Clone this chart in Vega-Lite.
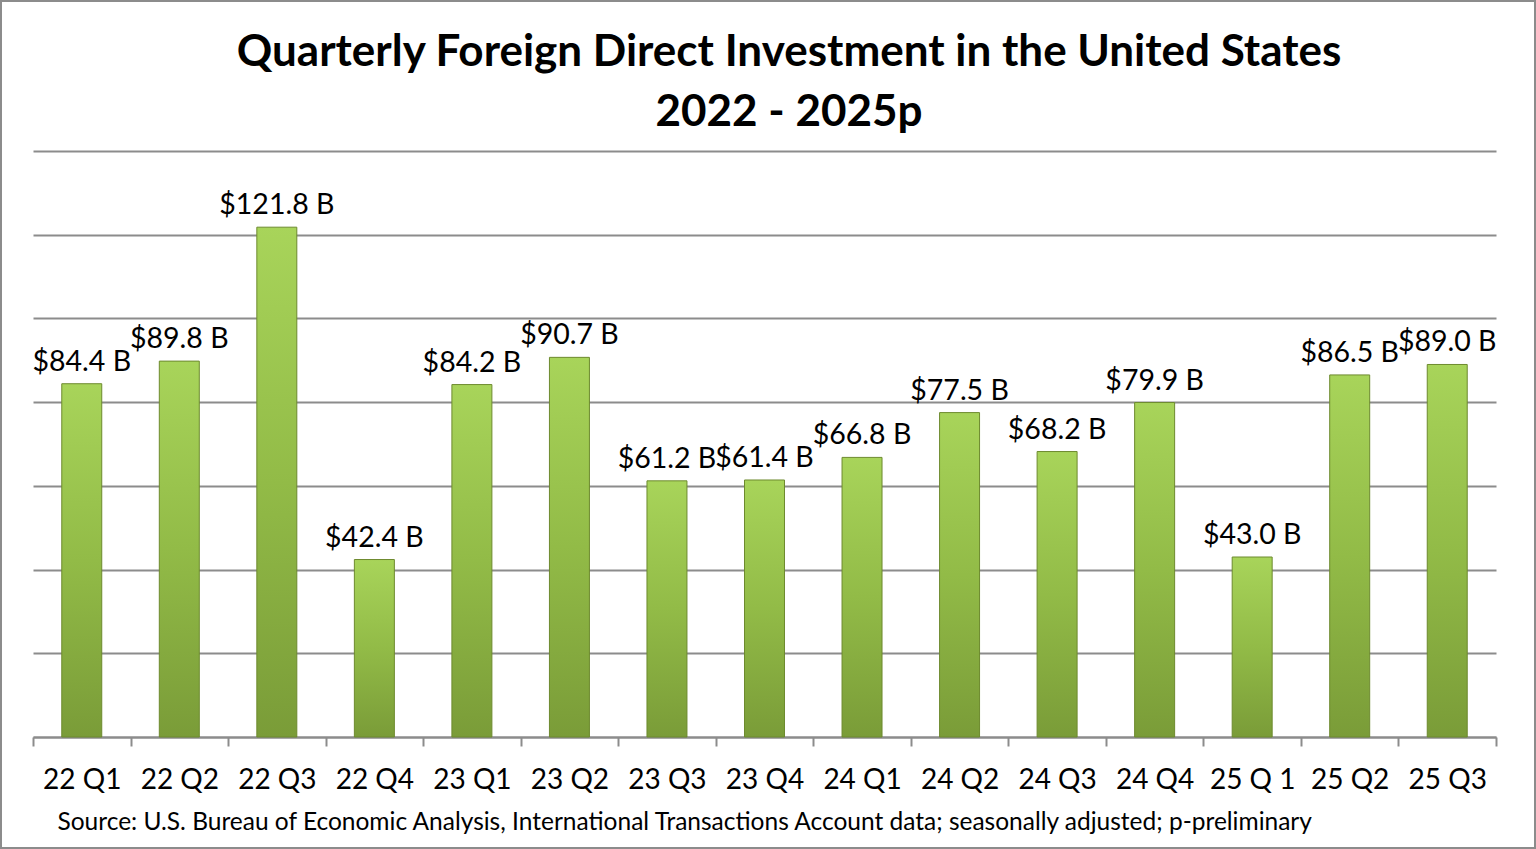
{
  "$schema": "https://vega.github.io/schema/vega-lite/v6.json",
  "width": 1536,
  "height": 849,
  "autosize": "none",
  "padding": 0,
  "background": "white",
  "title": {
    "text": ["Quarterly Foreign Direct Investment in the United States", "2022 - 2025p"],
    "font": "Lato",
    "fontSize": 44,
    "fontWeight": "bold",
    "color": "black",
    "anchor": "middle",
    "dx": 21,
    "lineHeight": 60,
    "offset": -135
  },
  "data": {
    "values": [
      {"quarter": "22 Q1", "value": 84.4, "label": "$84.4 B"},
      {"quarter": "22 Q2", "value": 89.8, "label": "$89.8 B"},
      {"quarter": "22 Q3", "value": 121.8, "label": "$121.8 B"},
      {"quarter": "22 Q4", "value": 42.4, "label": "$42.4 B"},
      {"quarter": "23 Q1", "value": 84.2, "label": "$84.2 B"},
      {"quarter": "23 Q2", "value": 90.7, "label": "$90.7 B"},
      {"quarter": "23 Q3", "value": 61.2, "label": "$61.2 B"},
      {"quarter": "23 Q4", "value": 61.4, "label": "$61.4 B"},
      {"quarter": "24 Q1", "value": 66.8, "label": "$66.8 B"},
      {"quarter": "24 Q2", "value": 77.5, "label": "$77.5 B"},
      {"quarter": "24 Q3", "value": 68.2, "label": "$68.2 B"},
      {"quarter": "24 Q4", "value": 79.9, "label": "$79.9 B"},
      {"quarter": "25 Q 1", "value": 43.0, "label": "$43.0 B"},
      {"quarter": "25 Q2", "value": 86.5, "label": "$86.5 B"},
      {"quarter": "25 Q3", "value": 89.0, "label": "$89.0 B"}
    ]
  },
  "encoding": {
    "x": {
      "field": "quarter",
      "type": "nominal",
      "sort": null,
      "scale": {"paddingInner": 0, "paddingOuter": 0, "range": [33, 1496]},
      "axis": {
        "offset": -112,
        "title": "Source:  U.S. Bureau of Economic Analysis, International Transactions Account data; seasonally adjusted; p-preliminary",
        "titleFont": "Lato",
        "titleFontSize": 24.5,
        "titleFontWeight": "normal",
        "titleColor": "black",
        "titleAnchor": "start",
        "titleAlign": "left",
        "titleBaseline": "middle",
        "titleX": 57,
        "titleY": 85,
        "labelAngle": 0,
        "labelFont": "Lato",
        "labelFontSize": 28,
        "labelColor": "black",
        "labelPadding": 20,
        "tickBand": "extent",
        "tickSize": 9,
        "tickColor": "#8c8c8c",
        "tickWidth": 2,
        "domainColor": "#8c8c8c",
        "domainWidth": 2,
        "grid": false
      }
    },
    "y": {
      "field": "value",
      "type": "quantitative",
      "scale": {"domain": [0, 140], "range": [737, 151]},
      "axis": {
        "values": [0, 20, 40, 60, 80, 100, 120, 140],
        "labels": false,
        "ticks": false,
        "domain": false,
        "grid": true,
        "gridColor": "#8c8c8c",
        "gridWidth": 2,
        "title": null
      }
    }
  },
  "layer": [
    {
      "mark": {
        "type": "bar",
        "width": {"band": 0.41},
        "color": {
          "gradient": "linear",
          "x1": 0, "y1": 0, "x2": 0, "y2": 1,
          "stops": [
            {"offset": 0, "color": "#a8d45a"},
            {"offset": 0.5, "color": "#92bb47"},
            {"offset": 1, "color": "#7a9c38"}
          ]
        },
        "stroke": "#6d8a2e",
        "strokeWidth": 1
      }
    },
    {
      "mark": {
        "type": "text",
        "baseline": "bottom",
        "dy": -7,
        "font": "Lato",
        "fontSize": 28.5,
        "color": "black"
      },
      "encoding": {"text": {"field": "label"}}
    }
  ],
  "config": {"view": {"stroke": "#8c8c8c", "strokeWidth": 4}}
}
